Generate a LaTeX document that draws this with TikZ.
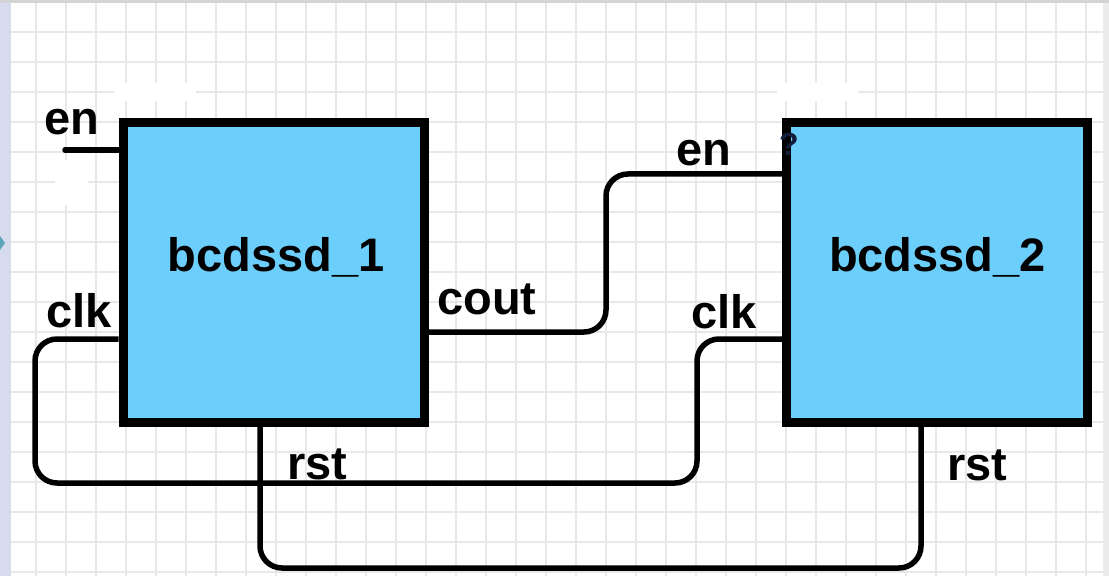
\documentclass[tikz,border=0pt]{standalone}
\usepackage{fontspec}
\setmainfont{Liberation Sans}
\definecolor{gridgray}{RGB}{232,232,232}
\definecolor{blockblue}{RGB}{108,206,250}
\definecolor{sideband}{RGB}{214,220,238}
\definecolor{topband}{RGB}{212,212,212}
\definecolor{rightband}{RGB}{236,236,236}
\definecolor{tealmark}{RGB}{90,165,185}
\definecolor{pinmark}{RGB}{20,30,60}
\begin{document}
\begin{tikzpicture}[x=1bp,y=-1bp,
  gridline/.style={draw=gridgray,line width=1.6bp},
  wire/.style={draw=black,line width=5.5bp,rounded corners=22bp},
  block/.style={draw=black,line width=9bp,fill=blockblue,
    minimum width=301bp,minimum height=300bp,inner sep=0pt},
  lbl/.style={font=\fontsize{47bp}{50bp}\selectfont\bfseries,inner sep=0pt,text=black}]
\useasboundingbox (0,0) rectangle (1109,576);
\fill[white] (0,0) rectangle (1109,576);
% background grid
\foreach \x in {36,66,...,1100} \draw[gridline] (\x,0) -- (\x,576);
\foreach \y in {2,32,...,575} \draw[gridline] (0,\y) -- (1109,\y);
% erased patches in the grid
\fill[white] (114,83) rectangle (196,101);
\fill[white] (777,83) rectangle (858,101);
\fill[white] (55,160) rectangle (88,205);
% window edges
\fill[sideband] (0,0) rectangle (11,576);
\fill[topband] (0,0) rectangle (1109,3);
\fill[rightband] (1103,3) rectangle (1109,576);
\fill[tealmark] (0,236) -- (5,243) -- (0,250) -- cycle;
% blocks
\node[block] (b1) at (273.75,272.5) {};
\node[block] (b2) at (937,272.5) {};
% connection points
\coordinate (enL) at (65,150);
% wires
\draw[wire,line cap=round] (enL) -- (enL -| b1.west);
\draw[wire] (b1.east |- 0,332) -- (606,332) -- (606,174) -- (b2.west |- 0,174);
\draw[wire] (b1.west |- 0,339) -- (35,339) -- (35,483) -- (697,483) -- (697,339) -- (b2.west |- 0,339);
\draw[wire] (b1.south -| 260,0) -- (260,568) -- (921,568) -- (b2.south -| 921,0);
% redraw blocks over wire ends
\node[block] at (b1.center) {};
\node[block] at (b2.center) {};
% labels
\node[lbl,anchor=base] (t1) at (276,272) {bcdssd\_1};
\node[lbl,anchor=base] (t2) at (937.5,272) {bcdssd\_2};
\node[lbl,anchor=base west] (en1) at (44,135) {en};
\node[lbl,anchor=base west] (clk1) at (46,328) {clk};
\node[lbl,anchor=base west] (cout) at (437,315) {cout};
\node[lbl,anchor=base west] (en2) at (676,166) {en};
\node[lbl,anchor=base west] (clk2) at (691,329) {clk};
\node[lbl,anchor=base west] (rst1) at (287,479) {rst};
\node[lbl,anchor=base west] (rst2) at (947,480) {rst};
\node[font=\fontsize{32bp}{34bp}\selectfont\bfseries,text=pinmark,inner sep=0pt,anchor=base west] (q) at (779,156) {?};
\end{tikzpicture}
\end{document}
